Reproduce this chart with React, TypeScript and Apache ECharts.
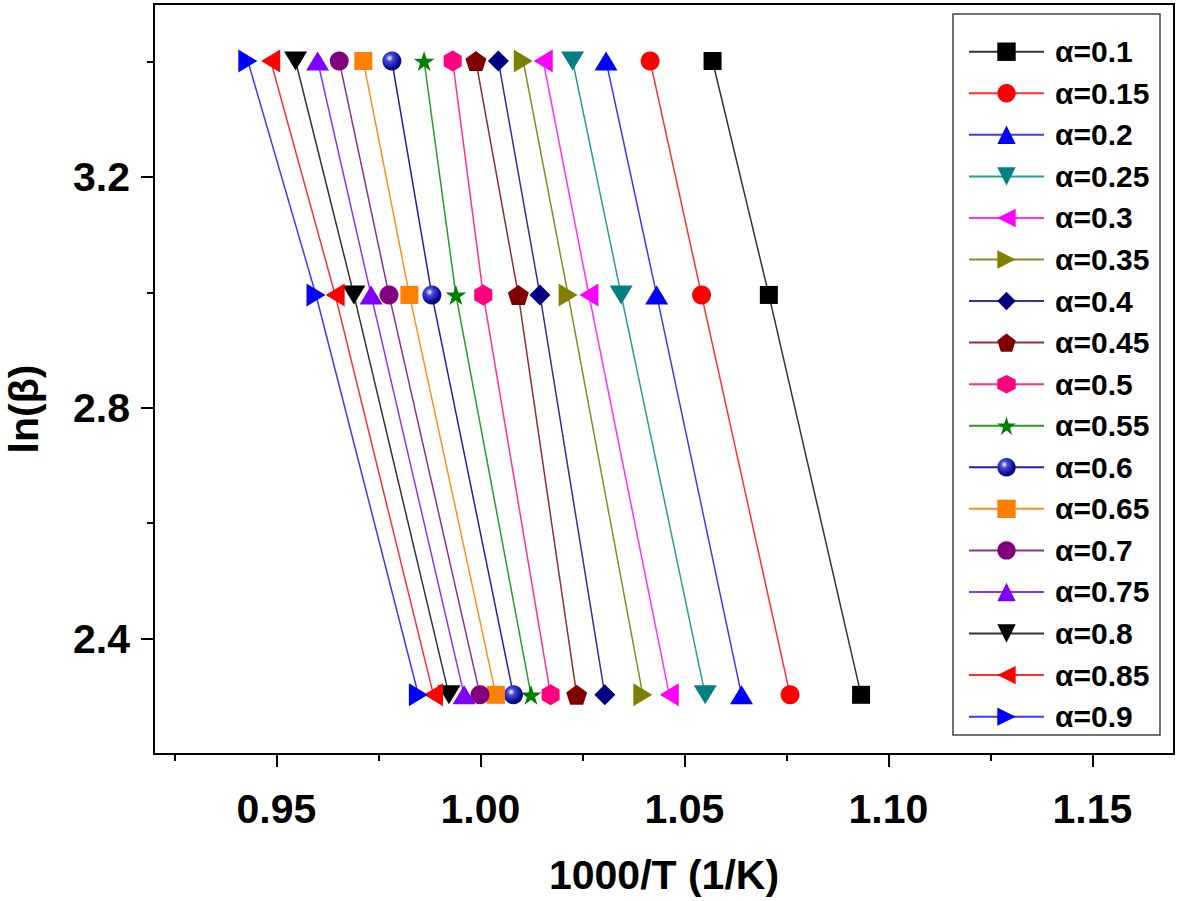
import React, { useEffect, useRef } from "react";
import * as echarts from "echarts";

// Conversion degree labels
const alphaLabels = [
  "α=0.1", "α=0.15", "α=0.2", "α=0.25", "α=0.3", "α=0.35", "α=0.4", "α=0.45", "α=0.5",
  "α=0.55", "α=0.6", "α=0.65", "α=0.7", "α=0.75", "α=0.8", "α=0.85", "α=0.9",
];

// ln(beta) for beta = 10, 20, 30 K/min
const lnBeta = [2.3026, 2.9957, 3.4012];

// 1000/T values (1/K) at each heating rate, one entry per alpha
const xBeta10 = [1.0933, 1.0759, 1.064, 1.0551, 1.0463, 1.0398, 1.0305, 1.0236, 1.0172, 1.0124, 1.0081, 1.0038, 0.9999, 0.996, 0.9923, 0.9885, 0.9848];
const xBeta20 = [1.0707, 1.0542, 1.0432, 1.0345, 1.0266, 1.0215, 1.0146, 1.0093, 1.0007, 0.994, 0.9881, 0.9826, 0.9776, 0.9732, 0.969, 0.9644, 0.9597];
const xBeta30 = [1.0569, 1.0416, 1.0308, 1.0226, 1.0154, 1.0105, 1.0044, 0.9989, 0.9932, 0.9862, 0.9783, 0.9713, 0.9654, 0.9601, 0.9547, 0.9486, 0.943];

// Axis ticks
const xMajorTicks = [0.95, 1.0, 1.05, 1.1, 1.15];
const xMinorTicks = [0.925, 0.975, 1.025, 1.075, 1.125];
const yMajorTicks = [2.4, 2.8, 3.2];
const yMinorTicks = [2.6, 3.0, 3.4];

const PENTAGON = "path://M0,-1 L0.951,-0.309 L0.588,0.809 L-0.588,0.809 L-0.951,-0.309 Z";
const HEXAGON = "path://M0,-1 L0.866,-0.5 L0.866,0.5 L0,1 L-0.866,0.5 L-0.866,-0.5 Z";
const STAR =
  "path://M0,-1 L0.2245,-0.309 L0.951,-0.309 L0.3633,0.118 L0.5878,0.809 L0,0.382 L-0.5878,0.809 L-0.3633,0.118 L-0.951,-0.309 L-0.2245,-0.309 Z";

const sphere = {
  type: "radial",
  x: 0.38,
  y: 0.35,
  r: 0.75,
  colorStops: [
    { offset: 0, color: "#ffffff" },
    { offset: 0.25, color: "#4a4ad8" },
    { offset: 0.7, color: "#0a0a9a" },
    { offset: 1, color: "#000050" },
  ],
};

// Marker styles per series
const styles: any[] = [
  { color: "#000000", line: "#333333", symbol: "rect", size: 18, rot: 0 },
  { color: "#ff0000", line: "#ff3030", symbol: "circle", size: 19, rot: 0 },
  { color: "#0000ff", line: "#3a3aff", symbol: "triangle", size: [23, 19], rot: 0 },
  { color: "#008080", line: "#2a9a9a", symbol: "triangle", size: [23, 19], rot: 180 },
  { color: "#ff00ff", line: "#ff30ff", symbol: "triangle", size: [23, 19], rot: 90 },
  { color: "#808000", line: "#8a8a20", symbol: "triangle", size: [23, 19], rot: -90 },
  { color: "#000080", line: "#3030a0", symbol: "diamond", size: [21, 21], rot: 0 },
  { color: "#800000", line: "#903030", symbol: PENTAGON, size: [21, 20], rot: 0 },
  { color: "#ff0080", line: "#ff3090", symbol: HEXAGON, size: [18, 21], rot: 0 },
  { color: "#008000", line: "#2a9a2a", symbol: STAR, size: [21, 20], rot: 0 },
  { color: sphere, line: "#2020b0", symbol: "circle", size: 19, rot: 0 },
  { color: "#ff8000", line: "#ff9020", symbol: "rect", size: 18, rot: 0 },
  { color: "#800080", line: "#903090", symbol: "circle", size: 19, rot: 0 },
  { color: "#8000ff", line: "#9030ff", symbol: "triangle", size: [23, 19], rot: 0 },
  { color: "#000000", line: "#333333", symbol: "triangle", size: [23, 19], rot: 180 },
  { color: "#ff0000", line: "#ff3030", symbol: "triangle", size: [23, 19], rot: 90 },
  { color: "#0000ff", line: "#3a3aff", symbol: "triangle", size: [23, 19], rot: -90 },
];

const FONT = "'Liberation Sans', Arial, Helvetica, sans-serif";

export default function App() {
  const ref = useRef<HTMLDivElement>(null);

  useEffect(() => {
    if (!ref.current) return;
    const chart = echarts.init(ref.current, undefined, { renderer: "svg" });

    const series = alphaLabels.map((name, i) => {
      const s = styles[i];
      return {
        name,
        type: "line",
        data: [
          [xBeta10[i], lnBeta[0]],
          [xBeta20[i], lnBeta[1]],
          [xBeta30[i], lnBeta[2]],
        ],
        symbol: s.symbol,
        symbolSize: s.size,
        symbolRotate: s.rot,
        showAllSymbol: true,
        itemStyle: { color: s.color, borderWidth: 0 },
        lineStyle: { color: s.line, width: 1.5 },
        emphasis: { disabled: true },
        xAxisIndex: 0,
        yAxisIndex: 0,
        z: 3,
      };
    });

    const axisText = { fontFamily: FONT, fontWeight: "bold", fontSize: 41, color: "#000" };

    chart.setOption({
      animation: false,
      backgroundColor: "#ffffff",
      grid: {
        left: 154,
        right: 7,
        top: 4,
        bottom: 147,
        show: true,
        borderColor: "#000",
        borderWidth: 2,
        backgroundColor: "transparent",
      },
      xAxis: [
        {
          type: "value",
          min: 0.92,
          max: 1.17,
          name: "1000/T (1/K)",
          nameLocation: "middle",
          nameGap: 100,
          nameTextStyle: axisText,
          axisLine: { show: true, onZero: false, lineStyle: { color: "#000", width: 2 } },
          axisTick: { show: true, length: 13, customValues: xMajorTicks, lineStyle: { color: "#000", width: 2 } },
          axisLabel: {
            ...axisText,
            margin: 34,
            customValues: xMajorTicks,
            formatter: (v: number) => v.toFixed(2),
          },
          splitLine: { show: false },
        },
        {
          type: "value",
          min: 0.92,
          max: 1.17,
          position: "bottom",
          axisLine: { show: false },
          axisTick: { show: true, length: 7, customValues: xMinorTicks, lineStyle: { color: "#000", width: 2 } },
          axisLabel: { show: false },
          splitLine: { show: false },
        },
      ],
      yAxis: [
        {
          type: "value",
          min: 2.2,
          max: 3.5,
          position: "left",
          axisLine: { show: true, onZero: false, lineStyle: { color: "#000", width: 2 } },
          axisTick: { show: true, length: 13, customValues: yMajorTicks, lineStyle: { color: "#000", width: 2 } },
          axisLabel: {
            ...axisText,
            margin: 24,
            customValues: yMajorTicks,
            formatter: (v: number) => v.toFixed(1),
          },
          splitLine: { show: false },
        },
        {
          type: "value",
          min: 2.2,
          max: 3.5,
          position: "left",
          axisLine: { show: false },
          axisTick: { show: true, length: 7, customValues: yMinorTicks, lineStyle: { color: "#000", width: 2 } },
          axisLabel: { show: false },
          splitLine: { show: false },
        },
      ],
      legend: {
        show: true,
        orient: "vertical",
        left: 968,
        top: 36.7,
        padding: 0,
        itemWidth: 75,
        itemHeight: 23,
        itemGap: 11.56,
        selectedMode: false,
        data: alphaLabels,
        textStyle: {
          fontFamily: FONT,
          fontWeight: "bold",
          fontSize: 30,
          color: "#000",
          lineHeight: 30,
          padding: [0, 0, 0, 6],
        },
      },
      graphic: [
        {
          type: "rect",
          shape: { x: 953, y: 14, width: 207, height: 721 },
          style: { fill: "none", stroke: "#444", lineWidth: 1.5 },
          z: 1,
        },
        {
          type: "text",
          x: 24,
          y: 409,
          rotation: Math.PI / 2,
          style: {
            text: "ln(β)",
            font: `bold 41px ${FONT}`,
            fill: "#000",
            textAlign: "center",
            textVerticalAlign: "middle",
          },
        },
      ],
      series,
    });

    return () => chart.dispose();
  }, []);

  return (
    <div
      ref={ref}
      style={{ position: "fixed", left: 0, top: 0, width: 1181, height: 901, background: "#fff" }}
    />
  );
}
